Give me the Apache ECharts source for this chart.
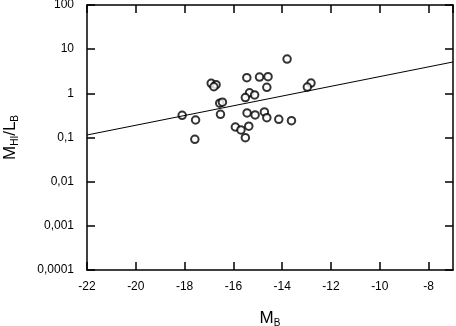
<!DOCTYPE html>
<html lang="en">
<head>
    <meta charset="UTF-8">
    <title>MHI/LB vs MB</title>
    <script src="https://cdn.jsdelivr.net/npm/echarts@6/dist/echarts.min.js"></script>
    <style>
        body { margin: 0; background: #fff; }
    </style>
</head>
<body>

<div id="main" style="width: 456px;height:326px;"></div>
<script type="text/javascript">

    // absolute magnitudes of the galaxies
    var magB = [-13.80, -15.45, -14.93, -14.58, -16.91, -16.71, -16.80, -14.63, -12.82, -12.97,
        -15.34, -15.13, -15.51, -16.56, -16.45, -16.53, -18.10, -17.55, -15.44, -15.11,
        -14.73, -14.63, -14.14, -13.62, -15.92, -15.69, -15.37, -15.51, -17.58];
    // HI mass to blue luminosity ratio
    var ratio = [5.98, 2.26, 2.34, 2.38, 1.69, 1.57, 1.41, 1.37, 1.71, 1.39,
        1.03, 0.92, 0.80, 0.60, 0.63, 0.335, 0.318, 0.249, 0.359, 0.324,
        0.379, 0.281, 0.258, 0.240, 0.173, 0.148, 0.180, 0.099, 0.091];
    // fit line end points
    var fitX = [-22, -7];
    var fitY = [0.114, 5.13];
    var yTickLabels = ['0,0001', '0,001', '0,01', '0,1', '1', '10', '100'];

    var pts = magB.map(function (m, i) { return [m, ratio[i]]; });
    var fit = fitX.map(function (m, i) { return [m, fitY[i]]; });

    var font = 'Liberation Sans';
    var frame = { show: true, lineStyle: { color: '#000', width: 1.5 } };
    var ticks = { show: true, inside: true, length: 8, lineStyle: { color: '#000', width: 1.5 } };

    var option = {
        animation: false,
        grid: { left: 87, right: 3, top: 5, bottom: 56, outerBoundsMode: 'none', containLabel: false },
        xAxis: [{
            type: 'value',
            min: -22, max: -7, interval: 2,
            axisLine: frame, axisTick: ticks,
            splitLine: { show: false },
            axisLabel: { color: '#000', fontFamily: font, fontSize: 12, margin: 11, showMaxLabel: false },
            name: '{m|M}{s|B}',
            nameLocation: 'middle',
            nameGap: 38,
            nameTextStyle: {
                rich: {
                    m: { fontFamily: font, fontSize: 17, color: '#000' },
                    s: { fontFamily: font, fontSize: 10, color: '#000', padding: [10, 0, 0, 0] }
                }
            }
        }, {
            type: 'value', position: 'top',
            min: -22, max: -7, interval: 2,
            axisLine: frame, axisTick: ticks,
            axisLabel: { show: false }, splitLine: { show: false }
        }],
        yAxis: [{
            type: 'log', logBase: 10,
            min: 0.0001, max: 100,
            axisLine: frame, axisTick: ticks,
            splitLine: { show: false },
            minorTick: { show: false },
            axisLabel: {
                color: '#000', fontFamily: font, fontSize: 12, margin: 13,
                formatter: function (v) {
                    return yTickLabels[Math.round(Math.log10(v)) + 4];
                }
            },
            name: '{m|M}{s|HI}{m|/L}{s|B}',
            nameLocation: 'middle',
            nameRotate: 90,
            nameGap: 67,
            nameTextStyle: {
                rich: {
                    m: { fontFamily: font, fontSize: 17, color: '#000' },
                    s: { fontFamily: font, fontSize: 10, color: '#000', padding: [10, 0, 0, 0] }
                }
            }
        }, {
            type: 'log', logBase: 10, position: 'right',
            min: 0.0001, max: 100,
            axisLine: frame, axisTick: ticks,
            axisLabel: { show: false }, splitLine: { show: false }
        }],
        series: [{
            type: 'line',
            data: fit,
            symbol: 'none',
            lineStyle: { color: '#000', width: 1 }
        }, {
            type: 'scatter',
            data: pts,
            symbol: 'circle',
            symbolSize: 7.5,
            itemStyle: { color: '#fff', borderColor: '#000', borderWidth: 2 }
        }]
    };

    var myChart = echarts.init(document.getElementById('main'));
    myChart.setOption(option);

</script>
</body>
</html>
